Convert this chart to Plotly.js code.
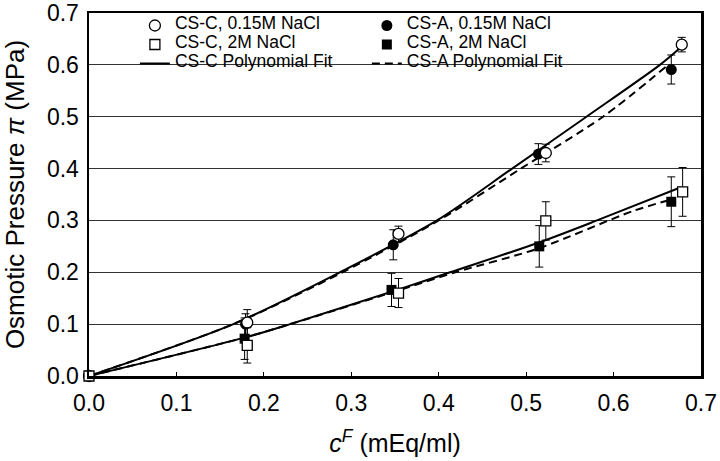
<!DOCTYPE html>
<html>
<head>
<meta charset="utf-8">
<script src="https://cdn.plot.ly/plotly-3.0.1.min.js"></script>
<style>html,body{margin:0;padding:0;background:#fff;}#chart{width:720px;height:461px;}</style>
</head>
<body>
<div id="chart"></div>
<script>
// ---- data ----
const xC015 = [0, 0.181, 0.354, 0.5225, 0.678];
const yC015 = [0, 0.103, 0.274, 0.430, 0.639];
const eC015 = [0, 0.025, 0.015, 0.017, 0.014];

const xA015 = [0, 0.179, 0.348, 0.514, 0.666];
const yA015 = [0, 0.100, 0.253, 0.428, 0.591];
const eA015 = [0, 0.020, 0.029, 0.020, 0.028];

const xC2M = [0, 0.181, 0.354, 0.5225, 0.679];
const yC2M = [0, 0.059, 0.160, 0.299, 0.355];
const eC2M = [0, 0.034, 0.028, 0.037, 0.047];

const xA2M = [0, 0.178, 0.346, 0.515, 0.666];
const yA2M = [0, 0.072, 0.166, 0.250, 0.336];
const eA2M = [0, 0.040, 0.032, 0.040, 0.048];

// polynomial fit curves
const fitCx015 = [0, 0.165, 0.287, 0.398, 0.484, 0.569, 0.653, 0.677];
const fitCy015 = [0, 0.100, 0.200, 0.300, 0.400, 0.500, 0.600, 0.634];
const fitAx015 = [0, 0.165, 0.290, 0.400, 0.494, 0.588, 0.661];
const fitAy015 = [0, 0.100, 0.200, 0.300, 0.400, 0.500, 0.598];
const fitCx2M = [0, 0.180, 0.230, 0.356, 0.413, 0.514, 0.581, 0.677];
const fitCy2M = [0, 0.075, 0.100, 0.168, 0.200, 0.257, 0.300, 0.364];
const fitAx2M = [0, 0.180, 0.230, 0.350, 0.419, 0.514, 0.622, 0.661];
const fitAy2M = [0, 0.075, 0.100, 0.163, 0.200, 0.246, 0.318, 0.338];

const axisTicks = [0, 0.1, 0.2, 0.3, 0.4, 0.5, 0.6, 0.7];
const axisTickText = ['0.0', '0.1', '0.2', '0.3', '0.4', '0.5', '0.6', '0.7'];

const names = {
  C015: 'CS-C, 0.15M NaCl', C2M: 'CS-C, 2M NaCl', Cfit: 'CS-C Polynomial Fit',
  A015: 'CS-A, 0.15M NaCl', A2M: 'CS-A, 2M NaCl', Afit: 'CS-A Polynomial Fit'
};
const lg = s => '<span style="font-size:17.5px">' + s + '</span>';

const FONT = 'Liberation Sans, Arial, Helvetica, sans-serif';
const errStyle = arr => ({type: 'data', array: arr, visible: true, color: '#000', thickness: 1, width: 4});
const DASH = '8px,5px';

const traces = [
  {x: fitCx015, y: fitCy015, mode: 'lines', line: {color: '#000', width: 2, shape: 'spline', smoothing: 0.8}, name: lg(names.Cfit), legend: 'legend', legendrank: 3},
  {x: fitCx2M, y: fitCy2M, mode: 'lines', line: {color: '#000', width: 2, shape: 'spline', smoothing: 0.8}, showlegend: false},
  {x: fitAx015, y: fitAy015, mode: 'lines', line: {color: '#000', width: 2, dash: DASH, shape: 'spline', smoothing: 0.8}, name: lg(names.Afit), legend: 'legend2', legendrank: 3},
  {x: fitAx2M, y: fitAy2M, mode: 'lines', line: {color: '#000', width: 2, dash: DASH, shape: 'spline', smoothing: 0.8}, showlegend: false},
  {x: xA015, y: yA015, error_y: errStyle(eA015), mode: 'markers', marker: {symbol: 'circle', size: 11, color: '#000'}, name: lg(names.A015), legend: 'legend2', legendrank: 1, cliponaxis: false},
  {x: xA2M, y: yA2M, error_y: errStyle(eA2M), mode: 'markers', marker: {symbol: 'square', size: 10, color: '#000'}, name: lg(names.A2M), legend: 'legend2', legendrank: 2, cliponaxis: false},
  {x: xC015, y: yC015, error_y: errStyle(eC015), mode: 'markers', marker: {symbol: 'circle', size: 11, color: '#fff', line: {color: '#000', width: 1.3}}, name: lg(names.C015), legend: 'legend', legendrank: 1, cliponaxis: false},
  {x: xC2M, y: yC2M, error_y: errStyle(eC2M), mode: 'markers', marker: {symbol: 'square', size: 10, color: '#fff', line: {color: '#000', width: 1.3}}, name: lg(names.C2M), legend: 'legend', legendrank: 2, cliponaxis: false}
];

const legendBase = {
  bgcolor: 'rgba(0,0,0,0)', borderwidth: 0, font: {family: FONT, size: 10, color: '#000'},
  yanchor: 'top', xanchor: 'left', y: 1.0055, tracegroupgap: 0, traceorder: 'normal'
};

const layout = {
  width: 720, height: 461,
  margin: {l: 89, r: 19, t: 11, b: 85},
  paper_bgcolor: '#fff', plot_bgcolor: '#fff',
  font: {family: FONT, color: '#000'},
  showlegend: true,
  legend: Object.assign({}, legendBase, {x: 0.075}),
  legend2: Object.assign({}, legendBase, {x: 0.454}),
  xaxis: {
    range: [0, 0.7], tickmode: 'array', tickvals: axisTicks, ticktext: axisTickText,
    showgrid: false, zeroline: false,
    showline: true, linecolor: '#000', linewidth: 2.5, mirror: true,
    ticks: 'inside', ticklen: 4, tickwidth: 1, tickcolor: '#000',
    tickfont: {family: FONT, size: 23, color: '#000'},
    ticklabelstandoff: 5,
    title: {text: '<i>c</i><sup><i>F</i></sup> (mEq/ml)', font: {family: FONT, size: 25, color: '#000'}, standoff: 20}
  },
  yaxis: {
    range: [0, 0.7], tickmode: 'array', tickvals: axisTicks, ticktext: axisTickText,
    showgrid: true, gridcolor: '#333', gridwidth: 1, zeroline: false,
    showline: true, linecolor: '#000', linewidth: 2.5, mirror: true,
    ticks: '', tickfont: {family: FONT, size: 23, color: '#000'},
    ticklabelstandoff: 3,
    title: {text: 'Osmotic Pressure <i>π</i> (MPa)', font: {family: FONT, size: 26, color: '#000'}, standoff: 17}
  }
};

Plotly.newPlot('chart', traces, layout, {displayModeBar: false, staticPlot: true});
</script>
</body>
</html>
